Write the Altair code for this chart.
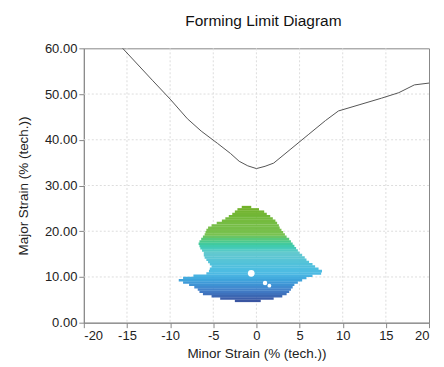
import altair as alt
import pandas as pd

# Forming limit curve (minor strain, major strain)
flc_minor = [-15.5, -12.0, -10.0, -8.0, -6.4, -4.5, -3.0, -2.0, -1.0, 0.0, 1.0, 2.0, 4.0, 6.0, 8.0, 9.5, 12.0, 14.5, 16.5, 18.3, 20.0]
flc_major = [60.0, 52.9, 48.9, 44.6, 41.9, 39.2, 37.0, 35.3, 34.3, 33.7, 34.2, 34.9, 38.0, 41.1, 44.2, 46.3, 47.7, 49.1, 50.3, 52.0, 52.4]

# Strain cloud outline, row by row (major strain level, minor strain min/max)
cloud_major = [4.5, 5.0, 5.5, 6.0, 6.5, 7.0, 7.5, 8.0, 8.5, 9.0, 9.5, 10.0, 10.5, 11.0, 11.5, 12.0,
               12.5, 13.0, 13.5, 14.0, 14.5, 15.0, 15.5, 16.0, 16.5, 17.0, 17.5, 18.0, 18.5, 19.0,
               19.5, 20.0, 20.5, 21.0, 21.5, 22.0, 22.5, 23.0, 23.5, 24.0, 24.5, 25.0]
cloud_min = [-2.5, -4.2, -5.2, -6.2, -6.6, -6.8, -7.2, -7.8, -8.5, -9.0, -8.5, -7.3, -5.8, -5.5, -5.4, -5.2,
             -5.4, -5.6, -5.8, -6.0, -6.1, -6.1, -6.3, -6.5, -6.6, -6.7, -6.6, -6.4, -6.2, -6.0,
             -5.9, -5.8, -5.6, -5.2, -4.6, -4.0, -3.6, -3.2, -2.8, -2.5, -2.2, -1.7]
cloud_max = [0.5, 2.0, 3.0, 3.5, 3.8, 4.0, 4.2, 4.4, 4.8, 5.3, 5.8, 6.5, 7.5, 7.6, 7.2, 6.8,
             6.5, 6.1, 5.8, 5.6, 5.3, 5.0, 4.8, 4.6, 4.4, 4.2, 4.0, 3.8, 3.5, 3.3,
             3.1, 2.9, 2.7, 2.6, 2.4, 2.2, 1.9, 1.6, 1.2, 0.9, 0.3, -0.6]

# Gaps inside the cloud (minor, major, relative size)
hole_minor = [-0.6, 1.0, 1.5]
hole_major = [10.8, 8.7, 8.1]
hole_size = [45, 20, 15]

x_ticks = [-20, -15, -10, -5, 0, 5, 10, 15, 20]
y_ticks = [0, 10, 20, 30, 40, 50, 60]
x_grid = [-15, -10, -5, 0, 5, 10, 15]
y_grid = [10, 20, 30, 40, 50]

flc = pd.DataFrame({"minor": flc_minor, "major": flc_major})
cloud = pd.DataFrame({"major": cloud_major, "xmin": cloud_min, "xmax": cloud_max})
cloud["major2"] = cloud["major"] + 0.55
holes = pd.DataFrame({"minor": hole_minor, "major": hole_major, "s": hole_size})

xscale = alt.Scale(domain=[-20, 20], nice=False, zero=False)
yscale = alt.Scale(domain=[0, 60], nice=False, zero=False)

common = dict(grid=False, domainColor="#888888", tickColor="#888888", tickSize=5,
              labelFont="Liberation Sans", labelFontSize=13, labelColor="#222222",
              titleFont="Liberation Sans", titleFontSize=13.5, titleFontWeight="normal",
              titleColor="#222222")
xaxis = alt.Axis(title="Minor Strain (% (tech.))", values=x_ticks,
                 labelExpr="'' + datum.value", titlePadding=4, **common)
yaxis = alt.Axis(title="Major Strain (% (tech.))", values=y_ticks, format=".2f",
                 titlePadding=14, **common)

xgrid_layer = alt.Chart(pd.DataFrame({"v": x_grid})).mark_rule(
    color="#dddddd", strokeDash=[2, 2], strokeWidth=1).encode(
    x=alt.X("v:Q", scale=xscale, axis=xaxis))
ygrid_layer = alt.Chart(pd.DataFrame({"v": y_grid})).mark_rule(
    color="#dddddd", strokeDash=[2, 2], strokeWidth=1).encode(
    y=alt.Y("v:Q", scale=yscale, axis=yaxis))

cloud_layer = alt.Chart(cloud).mark_rect(opacity=0.95).encode(
    x=alt.X("xmin:Q", scale=xscale),
    x2="xmax:Q",
    y=alt.Y("major:Q", scale=yscale),
    y2="major2:Q",
    color=alt.Color("major:Q", legend=None,
                    scale=alt.Scale(domain=[4.5, 7, 10.5, 15, 19, 25],
                                    range=["#2f4c9c", "#3a7cc8", "#45b6e2", "#5cc6cc", "#72bf48", "#6aae1e"])),
)

hole_layer = alt.Chart(holes).mark_circle(color="white", opacity=1).encode(
    x=alt.X("minor:Q", scale=xscale),
    y=alt.Y("major:Q", scale=yscale),
    size=alt.Size("s:Q", scale=None, legend=None),
)

line_layer = alt.Chart(flc).mark_line(color="#555555", strokeWidth=1).encode(
    x=alt.X("minor:Q", scale=xscale),
    y=alt.Y("major:Q", scale=yscale),
)

chart = alt.layer(xgrid_layer, ygrid_layer, cloud_layer, hole_layer, line_layer).properties(
    width=346, height=275,
    padding={"left": 8, "top": 5, "right": 5, "bottom": 5},
    title=alt.TitleParams("Forming Limit Diagram", font="Liberation Sans", fontSize=15.5,
                          fontWeight="normal", color="#111111", offset=13, dx=7),
).configure_view(stroke="#888888", strokeWidth=1)

chart.save("out.html", embed_options={"renderer": "svg", "actions": False})
